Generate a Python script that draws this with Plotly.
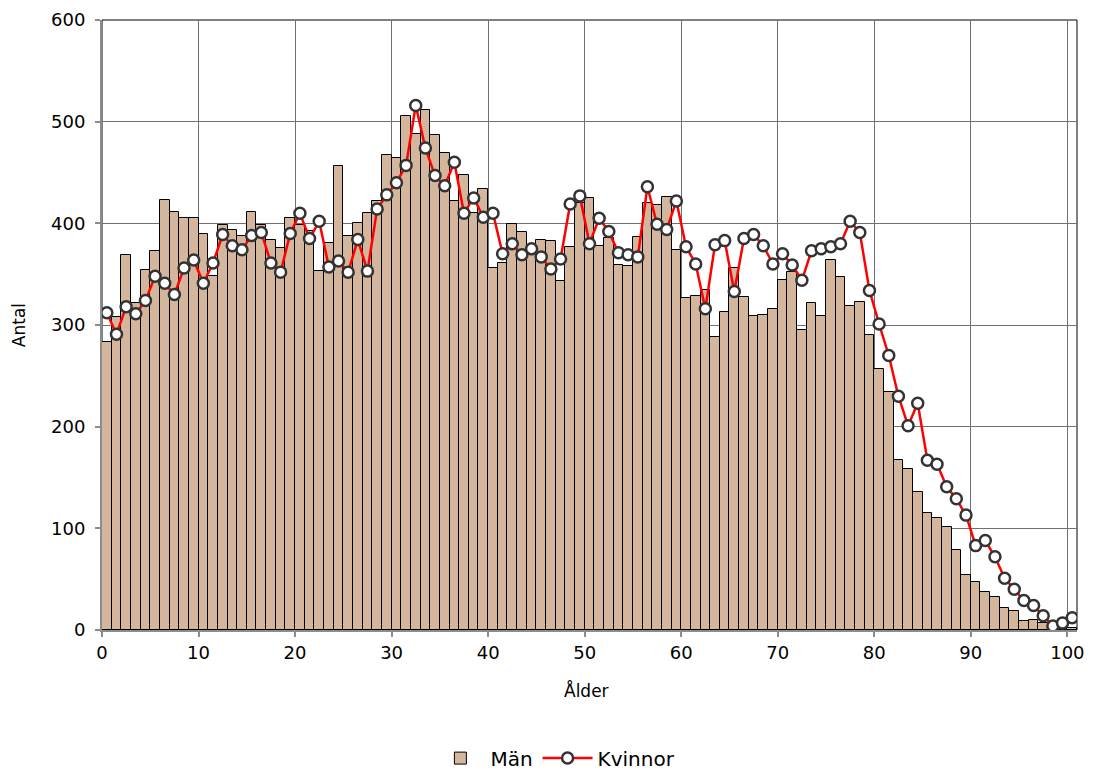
import plotly.graph_objects as go

ages = list(range(0, 101))

man = [283, 308, 369, 322, 354, 373, 423, 411, 405, 405,
       390, 348, 398, 393, 388, 411, 398, 384, 376, 405,
       398, 392, 353, 381, 456, 388, 400, 410, 422, 467,
       464, 506, 488, 511, 487, 469, 422, 448, 410, 434,
       356, 361, 399, 391, 378, 384, 383, 343, 377, 420,
       425, 378, 386, 359, 358, 387, 420, 418, 426, 374,
       327, 329, 334, 288, 313, 356, 328, 309, 310, 316,
       344, 352, 295, 322, 309, 364, 347, 319, 323, 290,
       257, 234, 167, 158, 136, 115, 110, 101, 79, 54,
       47, 37, 32, 22, 19, 9, 10, 7, 3, 2,
       2]

kvinnor = [312, 291, 318, 311, 324, 348, 341, 330, 356, 364,
           341, 361, 389, 378, 374, 388, 391, 361, 352, 390,
           410, 385, 402, 357, 363, 352, 384, 353, 414, 428,
           440, 457, 516, 474, 447, 437, 460, 410, 425, 406,
           410, 370, 380, 369, 375, 367, 355, 365, 419, 427,
           380, 405, 392, 371, 369, 367, 436, 399, 394, 422,
           377, 360, 316, 379, 383, 333, 385, 389, 378, 360,
           370, 359, 344, 373, 375, 377, 380, 402, 391, 334,
           301, 270, 230, 201, 223, 167, 163, 141, 129, 113,
           83, 88, 72, 51, 40, 29, 24, 14, 4, 7,
           12]

x_ticks = list(range(0, 101, 10))
y_ticks = list(range(0, 601, 100))

xpos = [a + 0.5 for a in ages]

FONT = "DejaVu Sans"

fig = go.Figure()
fig.add_trace(go.Bar(
    x=xpos, y=man, width=1, name="Män",
    marker=dict(color="#D4B69C", line=dict(color="#000000", width=1)),
))
fig.add_trace(go.Scatter(
    x=xpos, y=kvinnor, name="Kvinnor", mode="lines+markers",
    line=dict(color="#FF0000", width=2.5),
    marker=dict(symbol="circle", size=11, color="#FFFFFF",
                line=dict(color="#333333", width=2.5)),
))

fig.update_layout(
    width=1087, height=764,
    margin=dict(l=94, r=18, t=12, b=142, autoexpand=False),
    paper_bgcolor="white", plot_bgcolor="white",
    font=dict(family=FONT, size=17, color="#000000"),
    bargap=0,
    showlegend=True,
    legend=dict(orientation="h", x=0.465, xanchor="center", y=-0.21, yanchor="middle",
                font=dict(family=FONT, size=20), traceorder="normal",
                itemwidth=50),
    shapes=[dict(type="rect", xref="paper", yref="paper", x0=0, y0=0, x1=1, y1=1,
                 line=dict(color="#000000", width=1), layer="below")],
    annotations=[
        dict(text="Ålder", xref="paper", yref="paper", x=0.497, y=-0.099,
             xanchor="center", yanchor="middle", showarrow=False,
             font=dict(family=FONT, size=17)),
        dict(text="Antal", xref="paper", yref="paper", x=-0.085, y=0.50,
             xanchor="center", yanchor="middle", showarrow=False, textangle=-90,
             font=dict(family=FONT, size=17)),
    ],
)
fig.update_xaxes(
    range=[0, 101], tickmode="array", tickvals=x_ticks,
    ticktext=[str(v) for v in x_ticks],
    showgrid=True, gridcolor="#707070", gridwidth=1,
    showline=True, linecolor="#8c8c8c", linewidth=2,
    ticks="outside", ticklen=5, tickwidth=2, tickcolor="#8c8c8c",
    tickfont=dict(family=FONT, size=18),
    ticklabeloverflow="allow",
    automargin=False, zeroline=False,
)
fig.update_yaxes(
    range=[0, 600], tickmode="array", tickvals=y_ticks,
    ticktext=[str(v) for v in y_ticks],
    showgrid=True, gridcolor="#707070", gridwidth=1,
    showline=True, linecolor="#8c8c8c", linewidth=2,
    ticks="outside", ticklen=5, tickwidth=2, tickcolor="#8c8c8c",
    tickfont=dict(family=FONT, size=18),
    ticklabelstandoff=6,
    ticklabeloverflow="allow",
    automargin=False, zeroline=False,
)

fig.write_html("out.html")
